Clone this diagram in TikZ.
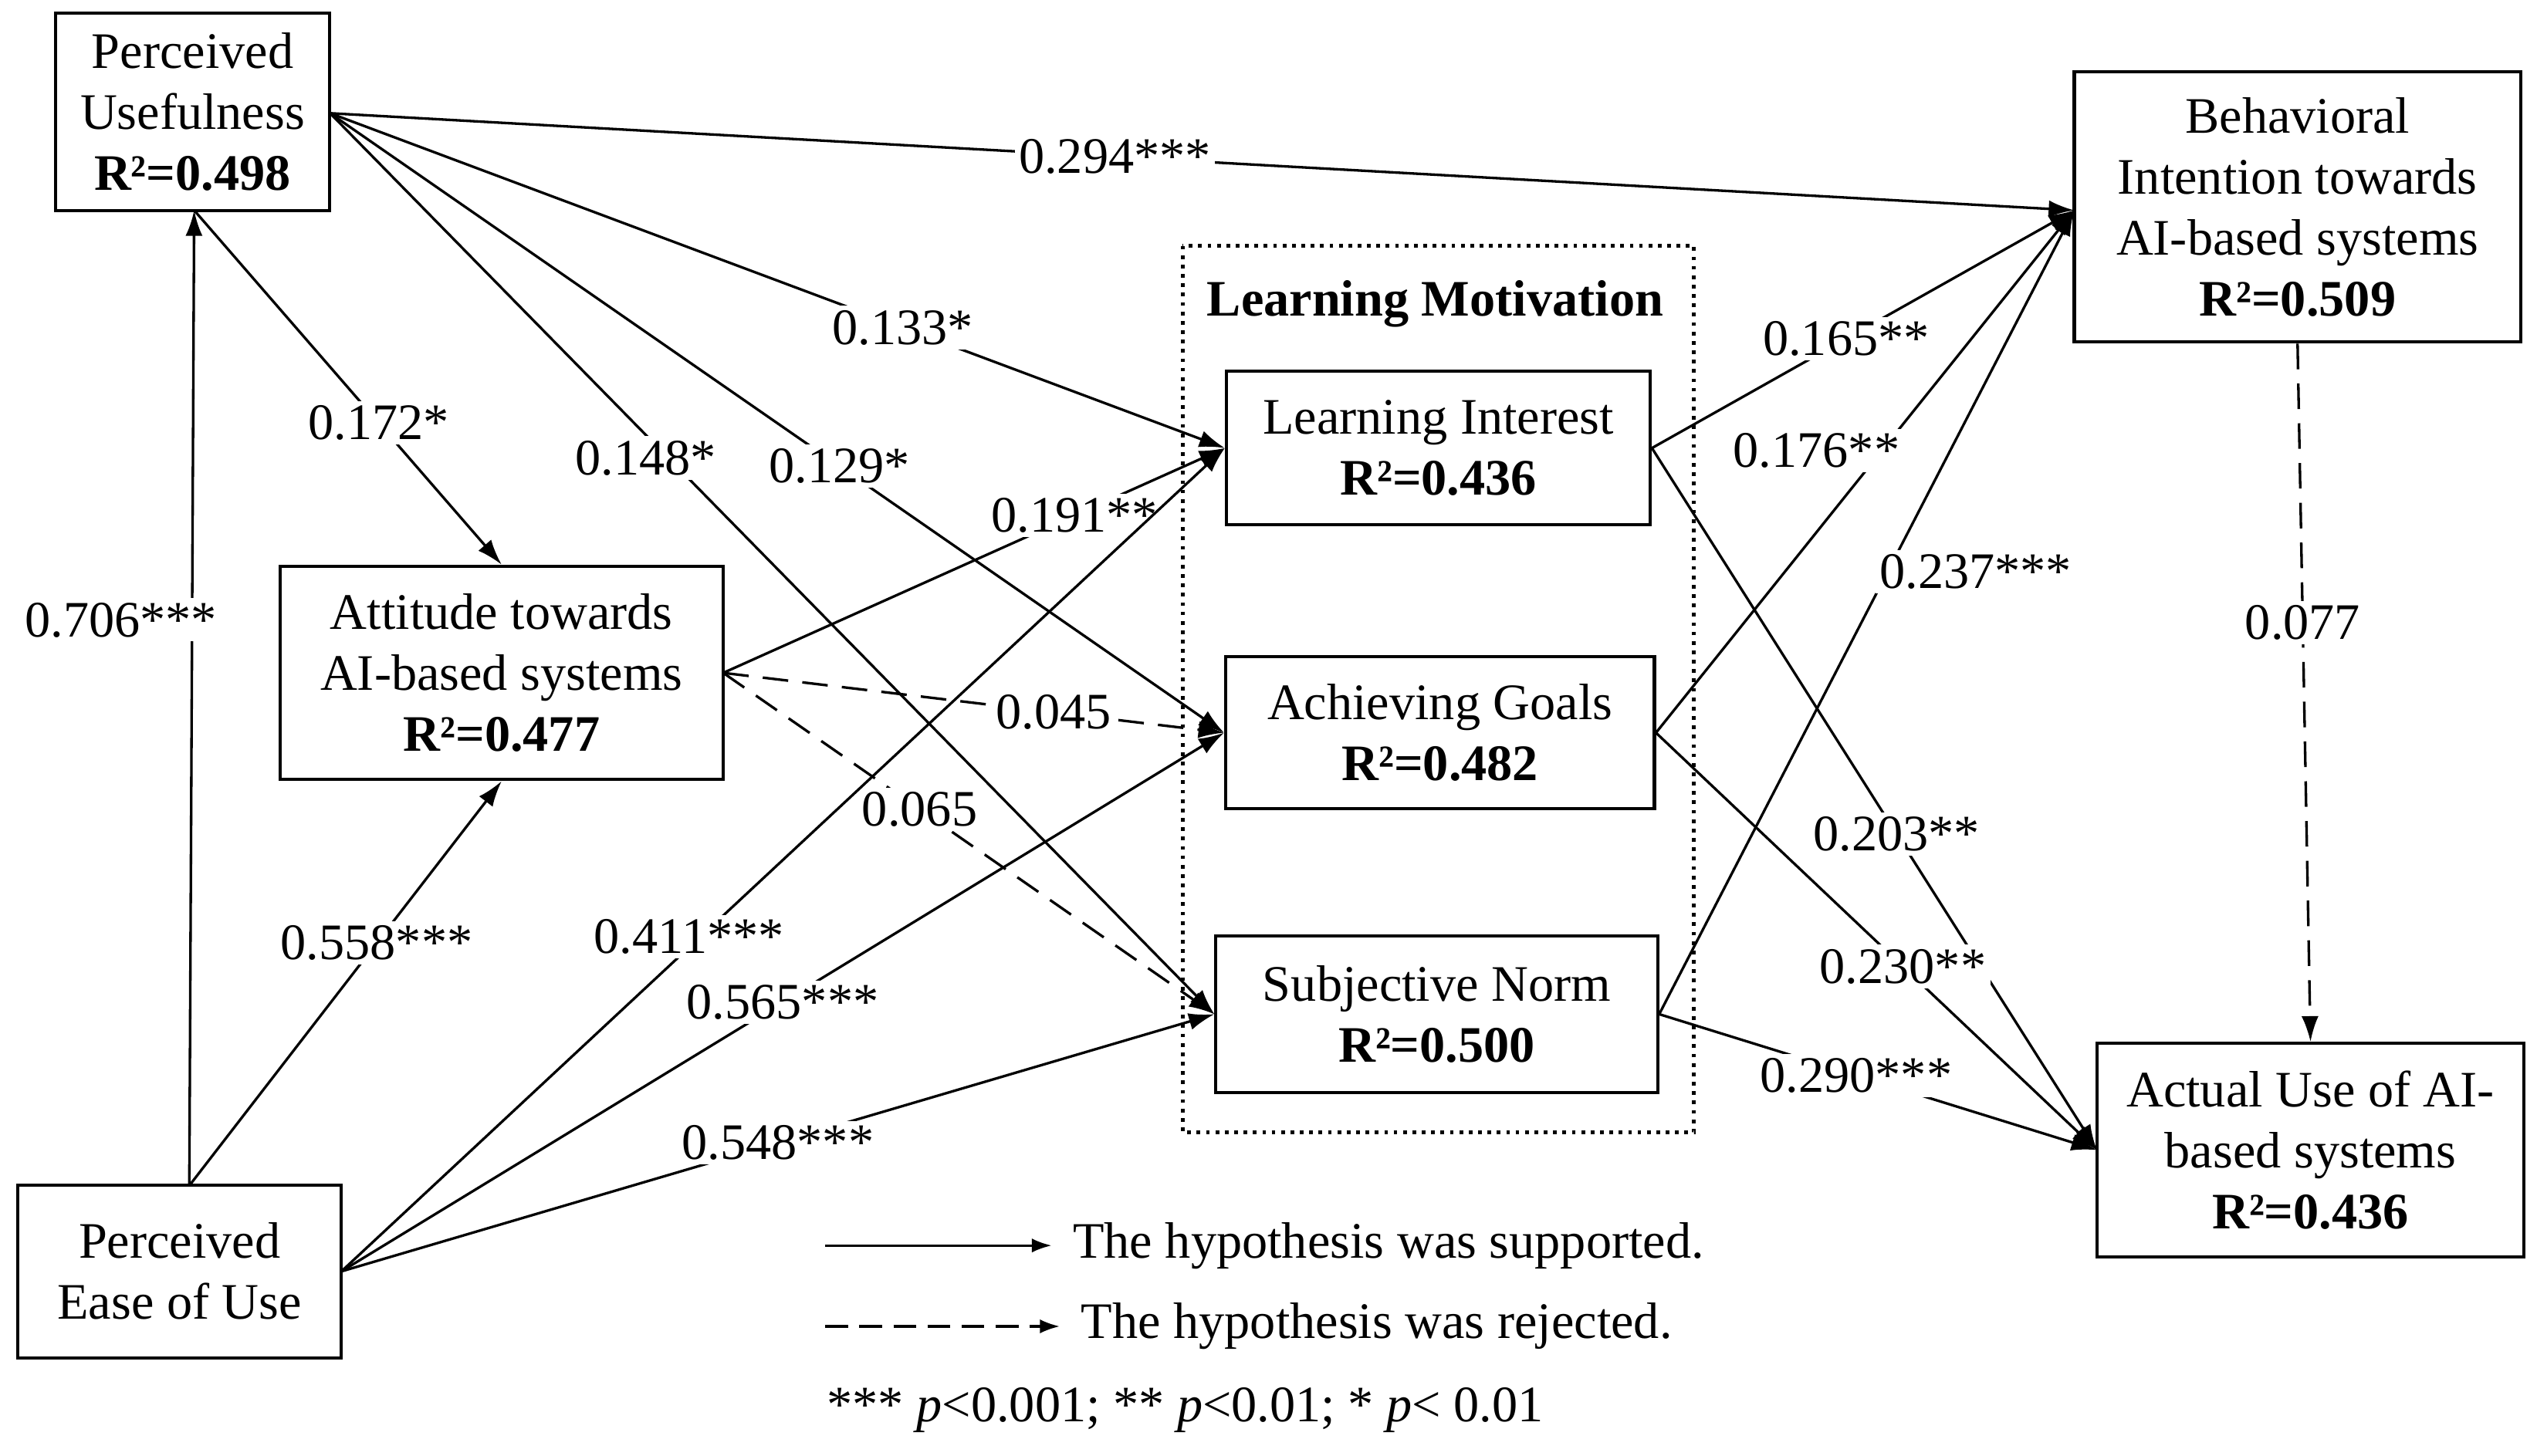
\documentclass[tikz,border=0pt]{standalone}
\usepackage{fontspec}
\setmainfont{Liberation Serif}
\usetikzlibrary{arrows.meta}
\begin{document}
\begin{tikzpicture}[x=0.02cm,y=-0.02cm,
  font=\fontsize{18}{21.5}\selectfont,
  box/.style={draw,line width=1.1pt,align=center,inner sep=2pt},
  arr/.style={-{Latex[length=9pt,width=6pt]},line width=0.9pt},
  dsh/.style={arr,dash pattern=on 9pt off 5pt},
  lab/.style={fill=white,inner sep=1.5pt}]
\useasboundingbox (0,0) rectangle (1568,900);
\node[box,minimum width=169*0.02cm,minimum height=122*0.02cm] (PU) at (119,69) {Perceived\\Usefulness\\\textbf{R²=0.498}};
\node[box,minimum width=276*0.02cm,minimum height=167*0.02cm] (BI) at (1420,128) {Behavioral\\Intention towards\\AI-based systems\\\textbf{R²=0.509}};
\draw[dotted,line width=1.3pt] (731,152) rectangle (1047,700);
\node[font=\fontsize{18}{21.5}\selectfont\bfseries] (LM) at (887,188) {Learning Motivation};
\node[box,minimum width=262*0.02cm,minimum height=95*0.02cm] (LI) at (889,277) {Learning Interest\\\textbf{R²=0.436}};
\node[box,minimum width=265*0.02cm,minimum height=94*0.02cm] (AG) at (890,453) {Achieving Goals\\\textbf{R²=0.482}};
\node[box,minimum width=273*0.02cm,minimum height=97*0.02cm] (SN) at (888,627) {Subjective Norm\\\textbf{R²=0.500}};
\node[box,minimum width=274*0.02cm,minimum height=132*0.02cm] (AT) at (310,416) {Attitude towards\\AI-based systems\\\textbf{R²=0.477}};
\node[box,minimum width=200*0.02cm,minimum height=107*0.02cm] (PE) at (111,786) {Perceived\\Ease of Use};
\node[box,minimum width=264*0.02cm,minimum height=132*0.02cm] (AU) at (1428,711) {Actual Use of AI-\\based systems\\\textbf{R²=0.436}};
% anchor coordinates
\coordinate (pur) at (204,70);
\coordinate (pub) at (120,130);
\coordinate (peo) at (211,786);
\coordinate (pet) at (117,733);
\coordinate (atr) at (447,416);
\coordinate (bil) at (1282,130);
\coordinate (aul) at (1296,711);
% edges
\draw[arr] (pur) -- node[lab,pos=0.45]{0.294***} (bil);
\draw[arr] (pur) -- node[lab,pos=0.64]{0.133*} (LI.west);
\draw[arr] (pur) -- node[lab,pos=0.57]{0.129*} (AG.west);
\draw[arr] (pur) -- node[lab,pos=0.37,xshift=-4pt,yshift=-4pt]{0.148*} (SN.west);
\draw[arr] (pub) -- node[lab,pos=0.6]{0.172*} (AT.north);
\draw[arr] (pet) -- node[lab,pos=0.58,xshift=-25pt]{0.706***} (pub);
\draw[arr] (pet) -- node[lab,pos=0.6]{0.558***} (AT.south);
\draw[arr] (atr) -- node[lab,pos=0.7]{0.191**} (LI.west);
\draw[dsh] (atr) -- node[lab,pos=0.66]{0.045} (AG.west);
\draw[dsh] (atr) -- node[lab,pos=0.4]{0.065} (SN.west);
\draw[arr] (peo) -- node[lab,pos=0.4,xshift=-2pt,yshift=2pt]{0.411***} (LI.west);
\draw[arr] (peo) -- node[lab,pos=0.5]{0.565***} (AG.west);
\draw[arr] (peo) -- node[lab,pos=0.5]{0.548***} (SN.west);
\draw[arr] (LI.east) -- node[lab,pos=0.46]{0.165**} (bil);
\draw[arr] (AG.east) -- node[lab,pos=0.54,xshift=-23pt]{0.176**} (bil);
\draw[arr] (SN.east) -- node[lab,pos=0.55,xshift=31pt]{0.237***} (bil);
\draw[arr] (LI.east) -- node[lab,pos=0.55]{0.203**} (aul);
\draw[arr] (AG.east) -- node[lab,pos=0.56]{0.230**} (aul);
\draw[arr] (SN.east) -- node[lab,pos=0.45]{0.290***} (aul);
\draw[dsh] (BI.south) -- node[lab,pos=0.4]{0.077} (AU.north);
% legend
\coordinate (l1a) at (510,770); \coordinate (l1b) at (650,770);
\coordinate (l2a) at (510,820); \coordinate (l2b) at (655,820);
\draw[arr,-{Latex[length=7pt,width=5pt]}] (l1a) -- (l1b);
\draw[dsh,dash pattern=on 8pt off 4pt,-{Latex[length=7pt,width=5pt]}] (l2a) -- (l2b);
\node[anchor=west] (t1) at (657,770) {The hypothesis was supported.};
\node[anchor=west] (t2) at (662,820) {The hypothesis was rejected.};
\node[anchor=west] (t3) at (505,872) {*** \textit{p}<0.001; ** \textit{p}<0.01; * \textit{p}< 0.01};
\end{tikzpicture}
\end{document}
